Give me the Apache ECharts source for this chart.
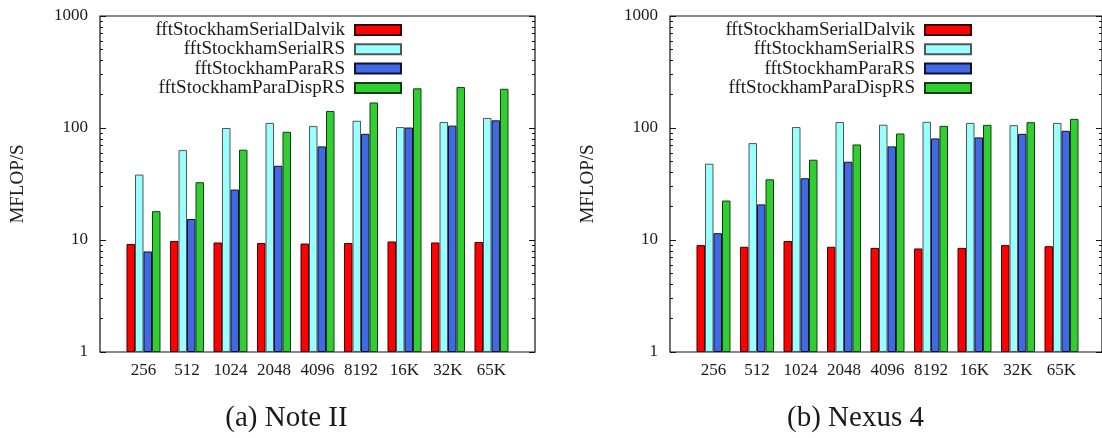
<!DOCTYPE html>
<html>
<head>
<meta charset="utf-8">
<script src="https://cdn.jsdelivr.net/npm/echarts@6/dist/echarts.min.js"></script>
<style>
html,body{margin:0;padding:0;background:#fff;}
#chart{width:1102px;height:438px;}
</style>
</head>
<body>
<div id="chart"></div>
<script>
// ---- data ----
const categories = ['256', '512', '1024', '2048', '4096', '8192', '16K', '32K', '65K'];
const seriesNames = ['fftStockhamSerialDalvik', 'fftStockhamSerialRS', 'fftStockhamParaRS', 'fftStockhamParaDispRS'];
const panelTitles = ['(a) Note II', '(b) Nexus 4'];
const yAxisName = 'MFLOP/S';
const yMin = 1;
const yMax = 1000;

// (a) Note II
const noteSerialDalvik = [9.2, 9.8, 9.5, 9.4, 9.3, 9.4, 9.7, 9.5, 9.6];
const noteSerialRS     = [38.4, 63.5, 100, 111, 104, 116, 102, 113, 123];
const noteParaRS       = [7.9, 15.4, 28.2, 46, 68.5, 88.7, 101, 105, 117];
const noteParaDispRS   = [18.1, 32.8, 64, 92.5, 142, 169, 226, 232, 224];

// (b) Nexus 4
const nexusSerialDalvik = [9.0, 8.7, 9.8, 8.7, 8.5, 8.4, 8.5, 9.0, 8.8];
const nexusSerialRS     = [48, 73.3, 102, 113, 107, 113.5, 111, 106, 111];
const nexusParaRS       = [11.5, 20.8, 35.6, 50, 68.5, 80.7, 82.4, 88.7, 94.4];
const nexusParaDispRS   = [22.5, 34.8, 52.1, 71.3, 89.3, 104.5, 106.7, 112.7, 120.6];

// ---- styles / layout ----
const colors = ['#ff0000', '#99ffff', '#4169e1', '#32cd32'];
const borders = ['#3a0000', '#555555', '#111133', '#104010'];
const FONT = 'Liberation Serif';
const TXT = '#1a1a1a';

const panels = [
  { left: 100, titleX: 286.5, legendRight: 700, data: [noteSerialDalvik, noteSerialRS, noteParaRS, noteParaDispRS] },
  { left: 670, titleX: 855.5, legendRight: 130, data: [nexusSerialDalvik, nexusSerialRS, nexusParaRS, nexusParaDispRS] }
];
const PLOT_W = 435, PLOT_TOP = 16, PLOT_H = 336;
const BAND = PLOT_W / 10;

const grid = [], xAxis = [], yAxis = [], series = [], legend = [], graphic = [];

panels.forEach(function (p, pi) {
  const frameGrid = grid.length;
  grid.push({ left: p.left, top: PLOT_TOP, width: PLOT_W, height: PLOT_H, show: true,
    borderColor: '#111', borderWidth: 1.2, backgroundColor: 'transparent', containLabel: false });
  const barGrid = grid.length;
  grid.push({ left: p.left + BAND / 2, top: PLOT_TOP, width: PLOT_W - BAND, height: PLOT_H, containLabel: false });

  // frame axes
  xAxis.push({ gridIndex: frameGrid, type: 'value', min: 0, max: 10, show: false });
  const logAxisBase = {
    gridIndex: frameGrid, type: 'log', logBase: 10, min: yMin, max: yMax,
    axisLine: { show: false },
    splitLine: { show: false },
    axisTick: { show: true, inside: true, length: 6, lineStyle: { color: '#111', width: 1 } },
    minorTick: { show: true, splitNumber: 9, length: 3, lineStyle: { color: '#111', width: 1 } },
    minorSplitLine: { show: false }
  };
  yAxis.push(Object.assign({}, logAxisBase, {
    position: 'left',
    axisLabel: { show: true, fontFamily: FONT, fontSize: 17, color: TXT, margin: 12,
      formatter: function (v) { return String(v); } },
    name: yAxisName, nameLocation: 'middle', nameRotate: 90, nameGap: 72,
    nameTextStyle: { fontFamily: FONT, fontSize: 19, color: TXT }
  }));
  yAxis.push(Object.assign({}, logAxisBase, {
    position: 'right',
    axisLabel: { show: false }
  }));

  // bar axes
  const bx = xAxis.length;
  xAxis.push({ gridIndex: barGrid, type: 'category', data: categories,
    axisLine: { show: false }, axisTick: { show: false }, splitLine: { show: false },
    axisLabel: { fontFamily: FONT, fontSize: 17, color: TXT, margin: 10, interval: 0 } });
  const by = yAxis.length;
  yAxis.push({ gridIndex: barGrid, type: 'log', logBase: 10, min: yMin, max: yMax, show: false });

  seriesNames.forEach(function (name, si) {
    series.push({
      name: name, type: 'bar', xAxisIndex: bx, yAxisIndex: by,
      data: p.data[si], barWidth: 8.5, barGap: '0%', animation: false,
      itemStyle: { color: colors[si], borderColor: borders[si], borderWidth: 1 }
    });
  });

  legend.push({
    data: seriesNames, orient: 'vertical', align: 'right', right: p.legendRight, top: 20.5,
    itemWidth: 46, itemHeight: 10, itemGap: 0.3, padding: 0, icon: 'rect',
    textStyle: { fontFamily: FONT, fontSize: 19, color: TXT, lineHeight: 17, padding: [0, 5, 0, 0] }
  });

  graphic.push({ type: 'text', x: p.titleX, y: 418,
    style: { text: panelTitles[pi], fontFamily: FONT, fontSize: 29, fill: TXT, align: 'center', verticalAlign: 'middle' } });
});

const chart = echarts.init(document.getElementById('chart'), null, { renderer: 'canvas' });
chart.setOption({
  animation: false,
  backgroundColor: '#ffffff',
  grid: grid, xAxis: xAxis, yAxis: yAxis, series: series, legend: legend, graphic: graphic
});
</script>
</body>
</html>
